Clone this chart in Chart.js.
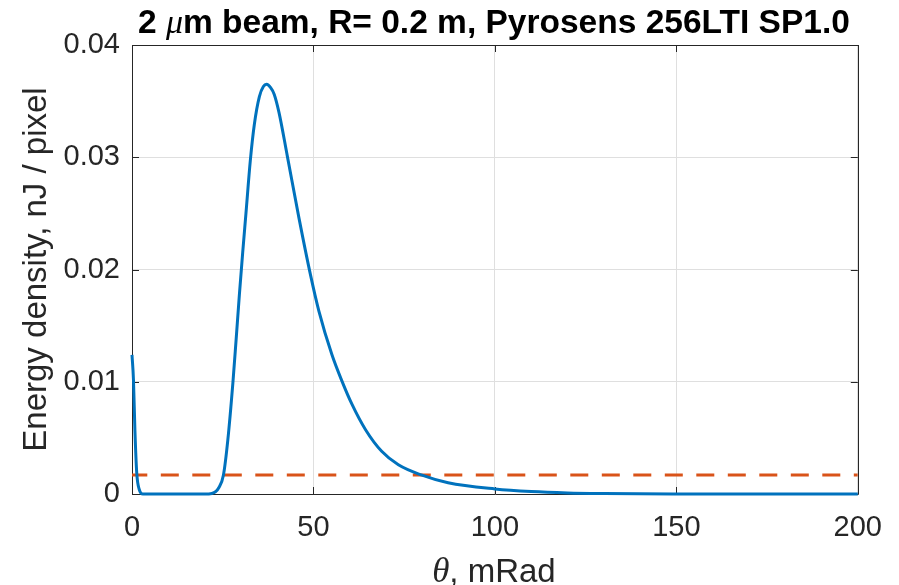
<!DOCTYPE html>
<html>
<head>
<meta charset="utf-8">
<script src="https://cdn.jsdelivr.net/npm/chart.js@4.4.1/dist/chart.umd.min.js"></script>
<style>
  html, body { margin: 0; padding: 0; background: #ffffff; }
  #wrap { width: 899px; height: 585px; }
</style>
</head>
<body>
<div id="wrap"><canvas id="c" width="899" height="585"></canvas></div>
<script>
// Angular energy distribution on the detector (theta in mRad, energy in nJ per pixel)
const thetaMrad = [0, 0.4, 0.8, 1.3, 2.0, 3.0, 10, 20, 22, 24, 25.2, 26.4, 27.8, 28.7, 29.6, 30.5,
  31.4, 32.6, 33.7, 35.1, 36.2, 37.1, 38.2, 39.2, 40.5, 42.8, 46.0, 49.2, 51.5, 55.1, 57.8, 60.6,
  64.4, 68.8, 73.4, 79.7, 87.1, 100, 110, 120, 130, 150, 175, 200];
const energyNJ = [0.0124, 0.0102, 0.0057, 0.0019, 0.0004, 0, 0, 0, 0.00005, 0.0006, 0.0017, 0.0048,
  0.0099, 0.0138, 0.0178, 0.0215, 0.0250, 0.0297, 0.0329, 0.0354, 0.0363, 0.0365, 0.0362, 0.0356,
  0.0340, 0.0301, 0.0246, 0.0195, 0.0163, 0.0124, 0.0101, 0.0080, 0.0057, 0.0038, 0.0026, 0.0017,
  0.0010, 0.00045, 0.00022, 0.0001, 0.00005, 0.00001, 0, 0];

// Detector noise floor
const thresholdTheta = [0, 200];
const thresholdNJ = [0.0017, 0.0017];

const xTickValues = [0, 50, 100, 150, 200];
const xTickLabels = ['0', '50', '100', '150', '200'];
const yTickValues = [0, 0.01, 0.02, 0.03, 0.04];
const yTickLabels = ['0', '0.01', '0.02', '0.03', '0.04'];

const TEXT = '#262626';
const SANS = "'Liberation Sans', Arial, Helvetica, sans-serif";
const SERIF = "'Liberation Serif', 'DejaVu Serif', serif";

const curvePoints = thetaMrad.map((t, i) => ({ x: t, y: energyNJ[i] }));
const thresholdPoints = thresholdTheta.map((t, i) => ({ x: t, y: thresholdNJ[i] }));

// Axes box with inward tick marks, drawn beneath the data lines
const boxPlugin = {
  id: 'box',
  beforeDatasetsDraw(chart) {
    const { ctx, chartArea: a, scales } = chart;
    ctx.save();
    ctx.strokeStyle = TEXT;
    ctx.lineWidth = 1;
    ctx.beginPath();
    ctx.rect(Math.round(a.left) + 0.5, Math.round(a.top) + 0.5,
             Math.round(a.right - a.left), Math.round(a.bottom - a.top));
    ctx.stroke();
    const len = 7;
    ctx.beginPath();
    xTickValues.forEach(v => {
      const x = Math.round(scales.x.getPixelForValue(v)) + 0.5;
      ctx.moveTo(x, a.bottom); ctx.lineTo(x, a.bottom - len);
      ctx.moveTo(x, a.top); ctx.lineTo(x, a.top + len);
    });
    yTickValues.forEach(v => {
      const y = Math.round(scales.y.getPixelForValue(v)) + 0.5;
      ctx.moveTo(a.left, y); ctx.lineTo(a.left + len, y);
      ctx.moveTo(a.right, y); ctx.lineTo(a.right - len, y);
    });
    ctx.stroke();
    ctx.restore();
  }
};

// Title and x-axis label, which mix upright sans text with italic math symbols
function drawMixed(ctx, parts, cx, baseline) {
  let total = 0;
  parts.forEach(p => { ctx.font = p.font; p.w = ctx.measureText(p.text).width; total += p.w; });
  let x = cx - total / 2;
  parts.forEach(p => {
    ctx.font = p.font;
    ctx.fillText(p.text, x, baseline);
    x += p.w;
  });
}

const textPlugin = {
  id: 'texts',
  afterDraw(chart) {
    const { ctx, chartArea: a } = chart;
    const cx = (a.left + a.right) / 2 - 1;
    ctx.save();
    ctx.textBaseline = 'alphabetic';
    ctx.textAlign = 'left';
    ctx.fillStyle = '#000000';
    drawMixed(ctx, [
      { text: '2 ', font: `bold 33.5px ${SANS}` },
      { text: 'μ', font: `italic 34px ${SERIF}` },
      { text: 'm beam, R= 0.2 m, Pyrosens 256LTI SP1.0', font: `bold 33.5px ${SANS}` }
    ], cx, 33);
    ctx.fillStyle = TEXT;
    drawMixed(ctx, [
      { text: 'θ', font: `italic 35px ${SERIF}` },
      { text: ', mRad', font: `33px ${SANS}` }
    ], cx, 582);
    ctx.restore();
  }
};

new Chart(document.getElementById('c'), {
  type: 'line',
  data: {
    datasets: [
      {
        data: curvePoints,
        borderColor: '#0072BD',
        borderWidth: 3,
        pointRadius: 0,
        cubicInterpolationMode: 'monotone',
        fill: false,
        clip: false,
        order: 1
      },
      {
        data: thresholdPoints,
        borderColor: '#D95319',
        borderWidth: 3,
        borderDash: [18, 13.5],
        borderDashOffset: 2.7,
        pointRadius: 0,
        fill: false,
        order: 2
      }
    ]
  },
  options: {
    responsive: false,
    devicePixelRatio: 1,
    animation: false,
    layout: { padding: { top: 45, right: 38, bottom: 0, left: 0 } },
    plugins: {
      legend: { display: false },
      tooltip: { enabled: false },
      title: { display: false }
    },
    scales: {
      x: {
        type: 'linear',
        min: 0,
        max: 200,
        afterBuildTicks: s => { s.ticks = xTickValues.map(v => ({ value: v })); },
        afterFit: s => { s.height = 91; },
        grid: { color: '#dfdfdf', lineWidth: 1, drawTicks: false },
        border: { display: false },
        ticks: {
          padding: 17,
          color: TEXT,
          font: { family: SANS, size: 29 },
          maxRotation: 0,
          autoSkip: false,
          callback: (v) => xTickLabels[xTickValues.indexOf(v)]
        }
      },
      y: {
        type: 'linear',
        min: 0,
        max: 0.04,
        afterBuildTicks: s => { s.ticks = yTickValues.map(v => ({ value: v })); },
        afterFit: s => { s.width = 132; },
        grid: { color: '#dfdfdf', lineWidth: 1, drawTicks: false },
        border: { display: false },
        ticks: {
          padding: 12,
          color: TEXT,
          font: { family: SANS, size: 29 },
          autoSkip: false,
          callback: (v) => yTickLabels[yTickValues.indexOf(v)]
        },
        title: {
          display: true,
          text: 'Energy density, nJ / pixel',
          color: TEXT,
          font: { family: SANS, size: 33 },
          padding: { top: 17, bottom: 0 }
        }
      }
    }
  },
  plugins: [boxPlugin, textPlugin]
});
</script>
</body>
</html>
